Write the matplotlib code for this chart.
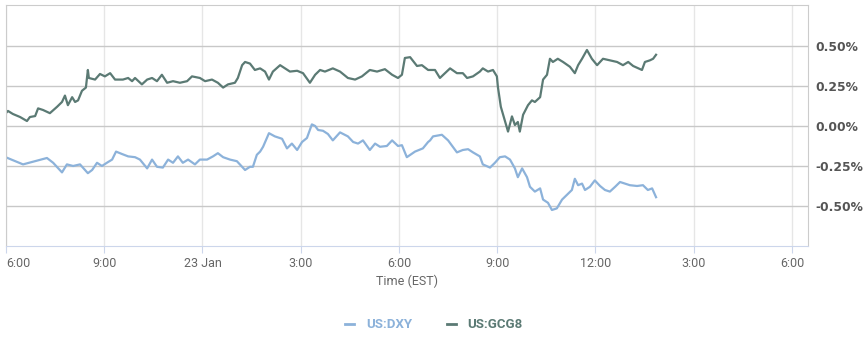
import matplotlib
matplotlib.use("Agg")
import matplotlib.pyplot as plt
from matplotlib.ticker import FixedLocator, FuncFormatter
from matplotlib.lines import Line2D

# hours after 06:00 EST (22 Jan), percent change
gcg8_hours = [0, 0.06, 0.21, 0.43, 0.64, 0.73, 0.89, 0.98, 1.13, 1.34, 1.56, 1.71, 1.80, 1.89,
              2.02, 2.11, 2.20, 2.32, 2.44, 2.50, 2.53, 2.72, 2.87, 3.02, 3.18, 3.33, 3.57, 3.73,
              3.85, 3.94, 4.15, 4.31, 4.46, 4.61, 4.76, 4.92, 5.10, 5.31, 5.53, 5.68, 5.92, 6.08,
              6.29, 6.47, 6.63, 6.78, 6.99, 7.08, 7.21, 7.30, 7.45, 7.60, 7.76, 7.91, 8.03, 8.15,
              8.37, 8.52, 8.67, 8.89, 9.07, 9.28, 9.44, 9.59, 9.74, 9.98, 10.20, 10.44, 10.66,
              10.87, 11.11, 11.33, 11.57, 11.79, 11.97, 12.09, 12.18, 12.34, 12.55, 12.70, 12.89,
              12.95, 13.10, 13.25, 13.56, 13.77, 13.95, 14.08, 14.26, 14.47, 14.56, 14.72, 14.87,
              14.99, 15.02, 15.11, 15.18, 15.33, 15.45, 15.54, 15.63, 15.69, 15.79, 15.94, 16.06,
              16.15, 16.31, 16.40, 16.52, 16.61, 16.70, 16.85, 17.01, 17.22, 17.37, 17.47, 17.59,
              17.74, 17.89, 18.05, 18.23, 18.44, 18.66, 18.84, 19.00, 19.15, 19.42, 19.51, 19.66,
              19.76, 19.85]
gcg8_pct = [0.081, 0.094, 0.075, 0.056, 0.031, 0.056, 0.062, 0.11, 0.10, 0.08, 0.12, 0.15, 0.19, 0.13,
            0.18, 0.15, 0.16, 0.22, 0.24, 0.35, 0.30, 0.29, 0.325, 0.31, 0.33, 0.29, 0.29, 0.30,
            0.28, 0.30, 0.26, 0.29, 0.30, 0.28, 0.32, 0.27, 0.28, 0.27, 0.28, 0.31, 0.30, 0.28,
            0.29, 0.27, 0.24, 0.26, 0.27, 0.30, 0.38, 0.40, 0.39, 0.35, 0.36, 0.34, 0.29, 0.34,
            0.38, 0.36, 0.34, 0.345, 0.33, 0.27, 0.32, 0.35, 0.34, 0.36, 0.34, 0.30, 0.29,
            0.31, 0.35, 0.34, 0.355, 0.32, 0.30, 0.32, 0.425, 0.43, 0.375, 0.38, 0.35,
            0.35, 0.35, 0.30, 0.36, 0.33, 0.33, 0.30, 0.31, 0.34, 0.36, 0.34, 0.35,
            0.31, 0.245, 0.12, 0.07, -0.035, 0.06, 0.006, 0.025, -0.035, 0.07, 0.13, 0.16,
            0.15, 0.18, 0.29, 0.32, 0.42, 0.40, 0.42, 0.40, 0.37, 0.33, 0.38, 0.42,
            0.475, 0.42, 0.38, 0.42, 0.41, 0.40, 0.38, 0.40, 0.375, 0.35, 0.40, 0.41,
            0.42, 0.445]

dxy_hours = [0, 0.52, 1.25, 1.44, 1.71, 1.86, 2.05, 2.26, 2.50, 2.63, 2.78, 2.93, 3.08, 3.24,
             3.36, 3.54, 3.73, 3.94, 4.09, 4.31, 4.46, 4.61, 4.79, 4.95, 5.10, 5.25, 5.40, 5.56,
             5.77, 5.92, 6.14, 6.32, 6.47, 6.63, 6.84, 7.05, 7.30, 7.45, 7.54, 7.66, 7.76, 7.85,
             8.03, 8.21, 8.43, 8.58, 8.73, 8.89, 9.04, 9.19, 9.34, 9.44, 9.53, 9.68, 9.83, 9.98,
             10.20, 10.44, 10.60, 10.75, 10.90, 11.11, 11.27, 11.42, 11.63, 11.79, 11.97, 12.09,
             12.24, 12.49, 12.73, 12.89, 12.95, 13.04, 13.31, 13.50, 13.77, 13.95, 14.11, 14.26,
             14.47, 14.56, 14.78, 14.93, 15.08, 15.24, 15.39, 15.54, 15.63, 15.76, 15.91, 16.00,
             16.15, 16.31, 16.40, 16.55, 16.67, 16.82, 16.98, 17.13, 17.28, 17.37, 17.47, 17.59,
             17.68, 17.83, 17.98, 18.14, 18.29, 18.44, 18.60, 18.75, 18.90, 19.05, 19.27, 19.45,
             19.60, 19.73, 19.85]
dxy_pct = [-0.196, -0.24, -0.20, -0.23, -0.29, -0.24, -0.25, -0.24, -0.295, -0.275, -0.23, -0.25, -0.23, -0.21,
           -0.16, -0.175, -0.19, -0.195, -0.21, -0.265, -0.21, -0.255, -0.26, -0.21, -0.23, -0.19, -0.23, -0.21,
           -0.24, -0.21, -0.21, -0.19, -0.17, -0.195, -0.21, -0.22, -0.275, -0.255, -0.255, -0.18, -0.16, -0.13,
           -0.045, -0.065, -0.08, -0.14, -0.11, -0.15, -0.10, -0.075, 0.01, 0.0, -0.025, -0.03, -0.05, -0.09,
           -0.04, -0.065, -0.10, -0.11, -0.09, -0.15, -0.11, -0.13, -0.125, -0.09, -0.125, -0.12,
           -0.195, -0.16, -0.14, -0.10, -0.09, -0.065, -0.055, -0.09, -0.165, -0.15, -0.145, -0.165,
           -0.19, -0.24, -0.26, -0.23, -0.195, -0.19, -0.21, -0.265, -0.32, -0.265, -0.32, -0.38,
           -0.41, -0.39, -0.46, -0.48, -0.525, -0.515, -0.46, -0.43, -0.40, -0.33, -0.37, -0.36,
           -0.40, -0.38, -0.34, -0.375, -0.40, -0.41, -0.38, -0.35, -0.36, -0.37, -0.375, -0.37,
           -0.40, -0.39, -0.445]

xtick_hours = [0, 3, 6, 9, 12, 15, 18, 21, 24]
xtick_labels = ["6:00", "9:00", "23 Jan", "3:00", "6:00", "9:00", "12:00", "3:00", "6:00"]
ytick_vals = [-0.5, -0.25, 0.0, 0.25, 0.5]

dxy_color = "#8cb2da"
gcg8_color = "#5b7a74"
narrow = ["Roboto", "DejaVu Sans"]

fig = plt.figure(figsize=(8.65, 3.39), dpi=100)
ax = fig.add_axes([6 / 865, 93 / 339, 802 / 865, 241 / 339])

ax.plot(dxy_hours, dxy_pct, color=dxy_color, lw=1.6, solid_joinstyle="round")
ax.plot(gcg8_hours, gcg8_pct, color=gcg8_color, lw=1.6, solid_joinstyle="round")

ax.set_xlim(0, 24.49)
ax.set_ylim(-0.75, 0.756)

ax.xaxis.set_major_locator(FixedLocator(xtick_hours))
ax.set_xticklabels(xtick_labels, family=narrow, fontsize=9, color="#666666")
ax.get_xticklabels()[0].set_horizontalalignment("left")
ax.get_xticklabels()[0].set_x(-0.09)
ax.yaxis.set_major_locator(FixedLocator(ytick_vals))
ax.yaxis.set_major_formatter(FuncFormatter(lambda v, p: "%.2f%%" % v))
ax.yaxis.tick_right()
for lab in ax.get_yticklabels():
    lab.set_fontweight("bold")
    lab.set_fontsize(8.8)
    lab.set_color("#555555")
    lab.set_family("DejaVu Sans")

ax.tick_params(axis="y", length=0, pad=5)
ax.tick_params(axis="x", length=5, color="#ccd6eb", pad=3)

ax.grid(axis="y", color="#c8c8c8", lw=1)
ax.grid(axis="x", color="#e6e6e6", lw=1)
ax.set_axisbelow(True)

for side in ["top", "right", "left"]:
    ax.spines[side].set_color("#cccccc")
ax.spines["bottom"].set_color("#ccd6eb")

ax.set_xlabel("Time (EST)", family=narrow, fontsize=9, color="#666666", labelpad=3)

handles = [Line2D([], [], color=dxy_color, lw=2), Line2D([], [], color=gcg8_color, lw=2)]
leg = fig.legend(handles, ["US:DXY", "US:GCG8"], loc="center", bbox_to_anchor=(434 / 865, 14 / 339),
                 ncol=2, frameon=False, handlelength=0.7, handletextpad=0.9, columnspacing=2.6,
                 prop={"family": narrow, "size": 9.5, "weight": "bold"})
for txt, c in zip(leg.get_texts(), [dxy_color, gcg8_color]):
    txt.set_color(c)

fig.savefig("out.png", dpi=100)
